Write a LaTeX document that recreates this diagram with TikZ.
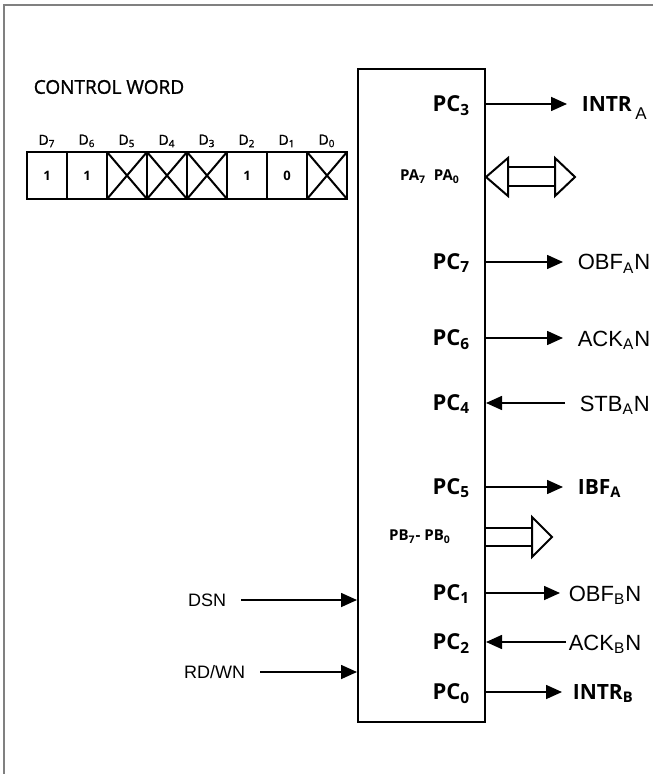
\documentclass[tikz,border=0pt]{standalone}
\usepackage{fontspec}
\newfontfamily\frut{Open Sans}
\newfontfamily\frutm[FakeBold=1.2]{Open Sans}
\newfontfamily\helv{Liberation Sans}
\usetikzlibrary{positioning,arrows.meta}

\tikzset{
  pclbl/.style={font=\frut\bfseries\fontsize{11}{13}\selectfont, anchor=east,
    inner sep=0pt, text height=7.5pt, text depth=0pt},
  outsig/.style={font=\helv\fontsize{11}{13}\selectfont, anchor=west,
    inner xsep=7pt, inner ysep=0pt, text height=8pt, text depth=0pt},
  outsigb/.style={font=\frut\bfseries\fontsize{10.5}{12}\selectfont, anchor=west,
    inner xsep=7pt, inner ysep=0pt, text height=7.5pt, text depth=0pt},
  insig/.style={font=\helv\fontsize{9}{11}\selectfont, anchor=east,
    inner xsep=7pt, inner ysep=0pt, text height=6.5pt, text depth=0pt},
  bitbox/.style={draw, line width=1pt, outer sep=0pt, inner sep=0pt,
    minimum width=20pt, minimum height=23.5pt,
    font=\frut\bfseries\fontsize{6.5}{7}\selectfont},
  bitlbl/.style={font=\frutm\fontsize{7}{8}\selectfont, inner sep=0pt},
  portlbl/.style={font=\frut\bfseries\fontsize{7.5}{9}\selectfont, inner sep=0pt},
  busline/.style={line width=1pt},
}

\begin{document}
\begin{tikzpicture}[x=0.5pt, y=-0.5pt, >={Triangle[length=8pt,width=7pt]}, line width=0.8pt]
  \useasboundingbox (0,0) rectangle (653,774);

  % Rahmen
  \draw[gray, line width=1pt] (4,774) -- (4,5) -- (653,5);

  % Steuerwort
  \node[font=\frutm\fontsize{9.5}{11}\selectfont, anchor=west, inner sep=0pt] (cw) at (33,87) {CONTROL WORD};

  \node[bitbox, anchor=north west] (b7) at (27,152) {1};
  \node[bitbox, right=0pt of b7] (b6) {1};
  \node[bitbox, right=0pt of b6] (b5) {};
  \node[bitbox, right=0pt of b5] (b4) {};
  \node[bitbox, right=0pt of b4] (b3) {};
  \node[bitbox, right=0pt of b3] (b2) {1};
  \node[bitbox, right=0pt of b2] (b1) {0};
  \node[bitbox, right=0pt of b1] (b0) {};

  % Kreuze
  \draw[line width=1pt] (b5.north west) -- (b5.south east) (b5.north east) -- (b5.south west);
  \draw[line width=1pt] (b4.north west) -- (b4.south east) (b4.north east) -- (b4.south west);
  \draw[line width=1pt] (b3.north west) -- (b3.south east) (b3.north east) -- (b3.south west);
  \draw[line width=1pt] (b0.north west) -- (b0.south east) (b0.north east) -- (b0.south west);

  % Bitnamen
  \node[bitlbl, above=2pt of b7] (d7) {D\textsubscript{7}};
  \node[bitlbl, above=2pt of b6] (d6) {D\textsubscript{6}};
  \node[bitlbl, above=2pt of b5] (d5) {D\textsubscript{5}};
  \node[bitlbl, above=2pt of b4] (d4) {D\textsubscript{4}};
  \node[bitlbl, above=2pt of b3] (d3) {D\textsubscript{3}};
  \node[bitlbl, above=2pt of b2] (d2) {D\textsubscript{2}};
  \node[bitlbl, above=2pt of b1] (d1) {D\textsubscript{1}};
  \node[bitlbl, above=2pt of b0] (d0) {D\textsubscript{0}};

  % Baustein
  \node[draw, line width=1pt, inner sep=0pt, anchor=north west,
        minimum width=63.5pt, minimum height=326.5pt] (chip) at (357,68) {};

  % Port A
  \node[pclbl] (pc3) at (471,104) {PC\textsubscript{3}};
  \node[outsigb] (intra) at (567,104) {INTR\,\raisebox{-4pt}{\helv\mdseries\fontsize{8.5}{9}\selectfont A}};
  \draw[->] (pc3 -| chip.east) -- (intra.west);

  \node[portlbl] (pa) at (430,177) {PA\textsubscript{7}\ \ PA\textsubscript{0}};
  \coordinate (pabus) at (pa -| chip.east);
  \draw[busline] (pabus) -- ++(22,-19) -- ++(0,38) -- cycle;
  \draw[busline] ([shift={(22,-9.5)}]pabus) -- ++(47,0) ([shift={(22,9.5)}]pabus) -- ++(47,0);
  \draw[busline] ([shift={(69,-19)}]pabus) -- ++(20,19) -- ++(-20,19) -- cycle;

  \node[pclbl] (pc7) at (471,262) {PC\textsubscript{7}};
  \node[outsig] (obfa) at (563,262) {OBF\textsubscript{A}N};
  \draw[->] (pc7 -| chip.east) -- (obfa.west);

  \node[pclbl] (pc6) at (471,338) {PC\textsubscript{6}};
  \node[outsig] (acka) at (563,338) {ACK\textsubscript{A}N};
  \draw[->] (pc6 -| chip.east) -- (acka.west);

  \node[pclbl] (pc4) at (471,403) {PC\textsubscript{4}};
  \node[outsig] (stba) at (565,403) {STB\textsubscript{A}N};
  \draw[->] (stba.west) -- (pc4 -| chip.east);

  \node[pclbl] (pc5) at (471,487) {PC\textsubscript{5}};
  \node[outsigb] (ibfa) at (563,487) {IBF\textsubscript{A}};
  \draw[->] (pc5 -| chip.east) -- (ibfa.west);

  % Port B
  \node[portlbl] (pb) at (420,537) {PB\textsubscript{7}- PB\textsubscript{0}};
  \coordinate (pbbus) at (pb -| chip.east);
  \draw[busline] ([shift={(0,-9)}]pbbus) -- ++(46,0) ([shift={(0,9)}]pbbus) -- ++(46,0);
  \draw[busline] ([shift={(46,-20)}]pbbus) -- ++(20,20) -- ++(-20,20) -- cycle;

  \node[pclbl] (pc1) at (471,593) {PC\textsubscript{1}};
  \node[outsig, inner xsep=4pt] (obfb) at (560,593) {OBF\textsubscript{B}N};
  \draw[->] (pc1 -| chip.east) -- (obfb.west);

  \node[pclbl] (pc2) at (471,642) {PC\textsubscript{2}};
  \node[outsig, inner xsep=1pt] (ackb) at (566,642) {ACK\textsubscript{B}N};
  \draw[->] (ackb.west) -- (pc2 -| chip.east);

  \node[pclbl] (pc0) at (471,692) {PC\textsubscript{0}};
  \node[outsigb, inner xsep=5pt] (intrb) at (562,692) {INTR\textsubscript{B}};
  \draw[->] (pc0 -| chip.east) -- (intrb.west);

  % Eingaenge
  \node[insig] (dsn) at (241,600) {DSN};
  \draw[->] (dsn.east) -- (dsn -| chip.west);
  \node[insig] (rdwn) at (260,672) {RD/WN};
  \draw[->] (rdwn.east) -- (rdwn -| chip.west);
\end{tikzpicture}
\end{document}
